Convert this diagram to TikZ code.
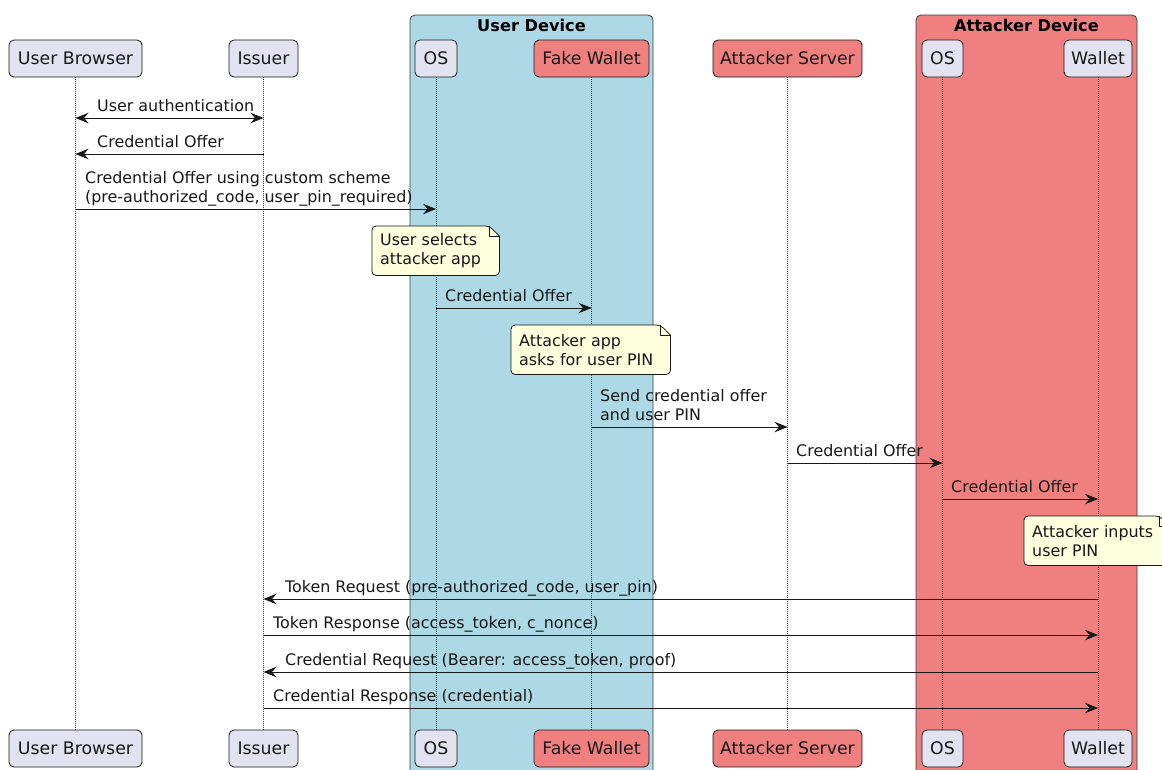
\documentclass[tikz,border=0pt]{standalone}
\usepackage{fontspec}
\setmainfont{DejaVu Sans}
\usetikzlibrary{arrows.meta,calc}
\definecolor{partfill}{HTML}{E2E2F0}
\definecolor{coral}{HTML}{F08080}
\definecolor{lblue}{HTML}{ADD8E6}
\definecolor{notefill}{HTML}{FEFFDD}
\definecolor{ink}{HTML}{181818}
\pgfdeclarelayer{notebg}
\pgfdeclarelayer{front}
\pgfsetlayers{main,notebg,front}

\tikzset{
  >={Stealth[length=13pt,width=10.5pt,inset=4.5pt]},
  part/.style={draw=ink, line width=0.8pt, rounded corners=5pt, fill=partfill,
    minimum height=37pt, inner sep=0pt, text=ink,
    font=\fontsize{17.3}{20}\selectfont, text height=12.6pt, text depth=0pt},
  evil/.style={fill=coral},
  lifeline/.style={draw=ink!85, line width=0.6pt, dash pattern=on 1pt off 1pt},
  msg/.style={draw=ink, line width=0.9pt, ->},
  bimsg/.style={draw=ink, line width=0.9pt, <->},
  lbl/.style={anchor=base west, inner sep=0pt, text=ink, align=left,
    font=\fontsize{15.9}{19}\selectfont},
  notebox/.style={anchor=north west, inner xsep=8pt, inner ysep=0pt, align=left,
    text=ink, minimum height=49pt, font=\fontsize{15.9}{19}\selectfont},
  noteline/.style={draw=ink, line width=0.8pt, fill=notefill, line join=round},
  device/.style={draw=ink!85, line width=0.8pt, rounded corners=5pt},
  devtitle/.style={anchor=base, inner sep=0pt, text=black,
    font=\fontsize{16.2}{19}\selectfont\bfseries},
}

\begin{document}
\begin{tikzpicture}[x=1pt,y=-1pt]
\useasboundingbox (0,0) rectangle (1162,769);
\clip (0,0) rectangle (1162,769);

% device groups
\draw[device, fill=lblue] (410,15) rectangle (653,800);
\node[devtitle] (udev) at (531.5,31) {User Device};
\draw[device, fill=coral] (916,15) rectangle (1137,800);
\node[devtitle] (adev) at (1026.5,31) {Attacker Device};

% participants, top row
\node[part, minimum width=133pt] (ub)  at (75.5,58.5)  {User Browser};
\node[part, minimum width=69pt]  (is)  at (263.5,58.5) {Issuer};
\node[part, minimum width=42pt]  (os1) at (436,58.5)   {OS};
\node[part, evil, minimum width=115pt] (fw) at (591.5,58.5) {Fake Wallet};
\node[part, evil, minimum width=149pt] (as) at (787.5,58.5) {Attacker Server};
\node[part, minimum width=41pt]  (os2) at (942.5,58.5) {OS};
\node[part, minimum width=68pt]  (wl)  at (1098,58.5)  {Wallet};

% participants, bottom row
\node[part, minimum width=133pt] (ubB)  at (75.5,748.5)  {User Browser};
\node[part, minimum width=69pt]  (isB)  at (263.5,748.5) {Issuer};
\node[part, minimum width=42pt]  (os1B) at (436,748.5)   {OS};
\node[part, evil, minimum width=115pt] (fwB) at (591.5,748.5) {Fake Wallet};
\node[part, evil, minimum width=149pt] (asB) at (787.5,748.5) {Attacker Server};
\node[part, minimum width=41pt]  (os2B) at (942.5,748.5) {OS};
\node[part, minimum width=68pt]  (wlB)  at (1098,748.5)  {Wallet};

% lifelines
\foreach \p in {ub,is,os1,fw,as,os2,wl}
  \draw[lifeline] (\p.south) -- (\p B.north);

% message rows
\coordinate (r1) at (0,118);
\coordinate (r2) at (0,154);
\coordinate (r3) at (0,209);
\coordinate (r5) at (0,308);
\coordinate (r7) at (0,427);
\coordinate (r8) at (0,463);
\coordinate (r9) at (0,499);
\coordinate (r11) at (0,599);
\coordinate (r12) at (0,635);
\coordinate (r13) at (0,672);
\coordinate (r14) at (0,708);

% messages
\draw[bimsg] (ub |- r1) -- (is |- r1);
\node[lbl] (m1) at (97,111) {User authentication};

\draw[msg] (is |- r2) -- (ub |- r2);
\node[lbl] (m2) at (97,147) {Credential Offer};

\draw[msg] (ub |- r3) -- (os1 |- r3);
\node[lbl] (m3) at (85,202) {Credential Offer using custom scheme\\(pre-authorized\_code, user\_pin\_required)};

\draw[msg] (os1 |- r5) -- (fw |- r5);
\node[lbl] (m5) at (445,301) {Credential Offer};

\draw[msg] (fw |- r7) -- (as |- r7);
\node[lbl] (m7) at (600,420) {Send credential offer\\and user PIN};

\draw[msg] (as |- r8) -- (os2 |- r8);
\node[lbl] (m8) at (796,456) {Credential Offer};

\draw[msg] (os2 |- r9) -- (wl |- r9);
\node[lbl] (m9) at (951,492) {Credential Offer};

\draw[msg] (wl |- r11) -- (is |- r11);
\node[lbl] (m11) at (285,592) {Token Request (pre-authorized\_code, user\_pin)};

\draw[msg] (is |- r12) -- (wl |- r12);
\node[lbl] (m12) at (273,628) {Token Response (access\_token, c\_nonce)};

\draw[msg] (wl |- r13) -- (is |- r13);
\node[lbl] (m13) at (285,665) {Credential Request (Bearer: access\_token, proof)};

\draw[msg] (is |- r14) -- (wl |- r14);
\node[lbl] (m14) at (273,701) {Credential Response (credential)};

% notes
\begin{pgfonlayer}{front}
\node[notebox, text width=111pt] (n1) at (372,226) {User selects\\attacker app};
\node[notebox, text width=143pt] (n2) at (511,325) {Attacker app\\asks for user PIN};
\node[notebox, text width=129pt] (n3) at (1024,516) {Attacker inputs\\user PIN};
\end{pgfonlayer}
\begin{pgfonlayer}{notebg}
\foreach \n in {n1,n2,n3}{
  \draw[noteline, rounded corners=4pt] (\n.north west) -- ($(\n.north east)+(-10,0)$)
    [sharp corners] -- ($(\n.north east)+(0,10)$) [rounded corners=4pt]
    -- (\n.south east) -- (\n.south west) -- cycle;
  \draw[draw=ink, line width=0.8pt, line join=round]
    ($(\n.north east)+(-10,0)$) -- ($(\n.north east)+(-10,10)$) -- ($(\n.north east)+(0,10)$);
}
\end{pgfonlayer}
\end{tikzpicture}
\end{document}
